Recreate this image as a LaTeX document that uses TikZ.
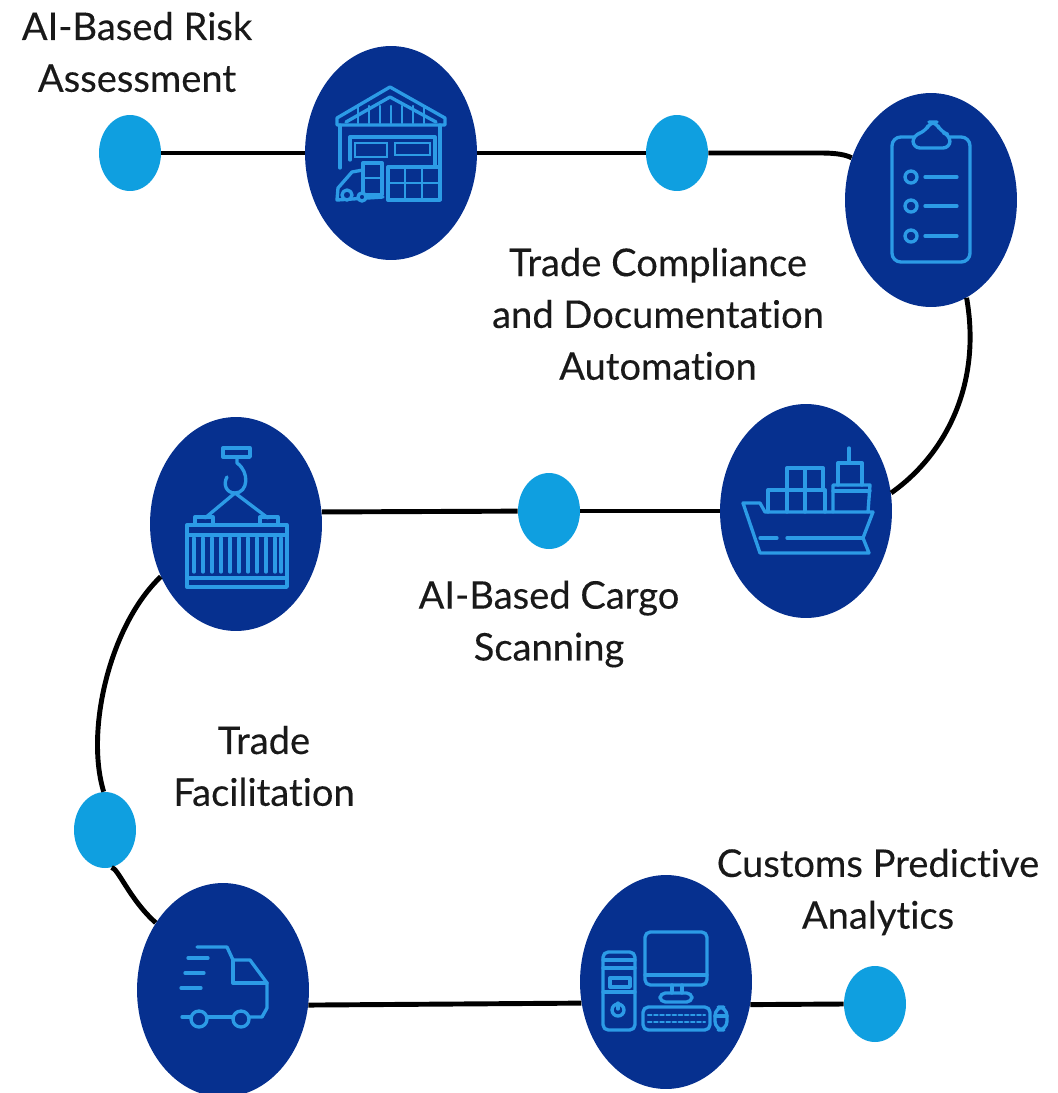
\documentclass[tikz,border=0pt]{standalone}
\usepackage{fontspec}
\setmainfont[Ligatures=NoCommon, FakeBold=0.25]{Lato}
\usetikzlibrary{shapes.geometric}
\definecolor{navyblob}{HTML}{06308F}
\definecolor{dotblue}{HTML}{0F9FE0}
\definecolor{iconblue}{HTML}{2C9BE6}
\tikzset{
    bigblob/.style={shape=ellipse, fill=navyblob, inner sep=0, minimum width=3.44cm, minimum height=4.28cm},
    smalldot/.style={shape=ellipse, fill=dotblue, inner sep=0, minimum width=1.24cm, minimum height=1.52cm},
    caption/.style={align=center, text=black!90, font=\fontsize{21.7}{29.5}\selectfont},
    link/.style={black, line width=2.8pt},
    icon/.style={iconblue, line width=1.9pt, line join=round, line cap=round},
    thinicon/.style={iconblue, line width=1.3pt, line cap=round}
}
\begin{document}
\begin{tikzpicture}[x=0.02cm, y=-0.02cm]
        \useasboundingbox (0, 0) rectangle (1058, 1093);

        \node[bigblob] (Ware) at (391, 153) {};
        \node[bigblob] (Clip) at (931, 200) {};
        \node[bigblob] (Ship) at (806, 511) {};
        \node[bigblob] (Crane) at (236, 524) {};
        \node[bigblob] (Truck) at (223, 990) {};
        \node[bigblob] (Comp) at (666, 982) {};

        \node[smalldot] (D1) at (130, 153) {};
        \node[smalldot] (D2) at (677, 153) {};
        \node[smalldot] (D3) at (549, 511) {};
        \node[smalldot] (D4) at (105, 830) {};
        \node[smalldot] (D5) at (875, 1004) {};

        \draw[link] (D1) -- (Ware);
        \draw[link] (Ware) -- (D2);
        \draw[link] (D2.east) -- ++(112, 0) .. controls (838, 153) and (846, 155) .. (Clip.152);
        \draw[link] (Clip.-70) .. controls (982, 385) and (945, 455) .. (Ship.12);
        \draw[link] (Ship) -- (D3);
        \draw[link] (D3) -- (Crane.8.6);
        \draw[link] (Crane.215) .. controls (110, 625) and (85, 730) .. (D4.92);
        \draw[link] (D4.-80) .. controls (118, 868) and (130, 900) .. (Truck.135);
        \draw[link] (Truck.-10.5) -- (Comp.194);
        \draw[link] (Comp.-15) -- (D5.west);

        \node[caption] (T1) at (137, 52) {AI-Based Risk\\Assessment};
        \node[caption] (T2) at (658, 314) {Trade Compliance\\and Documentation\\Automation};
        \node[caption] (T3) at (549, 624) {AI-Based Cargo\\Scanning};
        \node[caption] (T4) at (264, 766) {Trade\\Facilitation};
        \node[caption] (T5) at (878, 892) {Customs Predictive\\Analytics};

        % warehouse
        \draw[icon] (337, 118) -- (390, 87) -- (445, 118) -- (445, 125) -- (337, 125) -- cycle;
        \draw[icon] (346, 122) -- (390, 97) -- (436, 122);
        \foreach \x in {358, 369, 380, 391, 402, 413, 424} {
            \draw[thinicon] (\x, 123) -- (\x, 106);
        }
        \draw[icon] (340, 125) -- (340, 168);
        \draw[icon] (440, 125) -- (440, 200);
        \draw[icon] (350, 160) -- (350, 137) -- (435, 137) -- (435, 167);
        \draw[thinicon] (355, 143) rectangle (387, 157);
        \draw[thinicon] (395, 143) rectangle (430, 155);
        \draw[icon] (388, 167) rectangle (440, 200);
        \draw[thinicon] (388, 183) -- (440, 183);
        \foreach \x in {405, 422} {
            \draw[thinicon] (\x, 167) -- (\x, 200);
        }
        \draw[icon] (363, 163) rectangle (382, 195);
        \draw[thinicon] (363, 178) -- (382, 178);
        \draw[icon] (363, 170) -- (352, 172) -- (338, 188) -- (337, 200) -- (383, 197);
        \draw[icon, fill=navyblob] (347, 195) circle (5);
        \draw[icon, fill=navyblob] (362, 197) circle (4);

        % clipboard
        \draw[icon, rounded corners=5] (892, 137) rectangle (970, 262);
        \draw[icon, fill=navyblob, rounded corners=4] (913, 148) -- (913, 135) -- (925, 132) -- (930, 122) -- (936, 122) -- (941, 132) -- (950, 135) -- (950, 148) -- cycle;
        \foreach \y in {177, 206, 236} {
            \draw[icon] (911, \y) circle (6);
            \draw[icon] (925, \y) -- (957, \y);
        }

        % ship
        \draw[icon] (743, 503) -- (760, 503) -- (765, 512) -- (873, 512) -- (863, 538) -- (869, 553) -- (760, 553) -- cycle;
        \draw[icon] (760, 538) -- (777, 538);
        \draw[icon] (787, 538) -- (863, 538);
        \draw[icon] (768, 512) -- (768, 490) -- (825, 490) -- (825, 512);
        \draw[icon] (787, 512) -- (787, 468) -- (823, 468) -- (823, 490);
        \draw[icon] (805, 468) -- (805, 512);
        \draw[icon] (833, 512) -- (833, 485) -- (870, 485) -- (868, 512);
        \draw[icon] (833, 491) -- (870, 491);
        \draw[icon] (838, 485) -- (838, 463) -- (862, 463) -- (862, 485);
        \draw[icon] (849, 448) -- (849, 463);

        % crane and container
        \draw[icon] (223, 448) rectangle (250, 457);
        \draw[icon] (237, 457) -- (237, 463) .. controls (250, 472) and (248, 493) .. (235, 493) .. controls (226, 493) and (223, 484) .. (227, 477);
        \draw[icon] (205, 518) -- (235, 493) -- (268, 518);
        \draw[icon] (195, 523) -- (195, 517) -- (213, 517) -- (213, 523);
        \draw[icon] (260, 523) -- (260, 517) -- (278, 517) -- (278, 523);
        \draw[icon] (187, 525) rectangle (287, 587);
        \draw[icon] (187, 535) -- (287, 535);
        \draw[icon] (187, 578) -- (287, 578);
        \foreach \x in {194, 203, 212, 221, 230, 239, 248, 257, 266, 275, 281} {
            \draw[icon] (\x, 538) -- (\x, 572);
        }

        % truck
        \draw[icon] (197, 947) -- (227, 947) -- (233, 960) -- (250, 960) -- (267, 983) -- (267, 1008) -- (262, 1017) -- (249, 1017);
        \draw[icon] (233, 960) -- (233, 983) -- (267, 983);
        \draw[icon] (207, 1017) -- (233, 1017);
        \draw[icon] (182, 1017) -- (191, 1017);
        \draw[icon] (199, 1019) circle (8);
        \draw[icon] (241, 1019) circle (8);
        \draw[icon] (188, 958) -- (208, 958);
        \draw[icon] (185, 973) -- (204, 973);
        \draw[icon] (181, 988) -- (201, 988);

        % computer
        \draw[icon, rounded corners=3] (603, 952) rectangle (635, 1030);
        \draw[icon] (603, 960) -- (635, 960);
        \draw[icon] (603, 968) -- (635, 968);
        \draw[icon] (610, 978) rectangle (630, 987);
        \draw[icon] (603, 992) -- (635, 992);
        \draw[icon] (618, 1010) circle (6);
        \draw[icon] (618, 1003) -- (618, 1009);
        \draw[icon, rounded corners=3] (645, 932) rectangle (707, 985);
        \draw[icon] (645, 975) -- (707, 975);
        \draw[icon] (672, 985) -- (672, 993);
        \draw[icon] (682, 985) -- (682, 993);
        \draw[icon, rounded corners=3] (660, 993) rectangle (692, 1002);
        \draw[icon, rounded corners=3] (643, 1007) rectangle (710, 1030);
        \draw[thinicon, dashed, dash pattern=on 2pt off 1.5pt] (648, 1015) -- (705, 1015);
        \draw[thinicon, dashed, dash pattern=on 2pt off 1.5pt] (648, 1022) -- (705, 1022);
        \draw[icon, rounded corners=5] (715, 1007) rectangle (727, 1030);
        \draw[icon] (715, 1016) -- (727, 1016);

    \end{tikzpicture}
\end{document}
